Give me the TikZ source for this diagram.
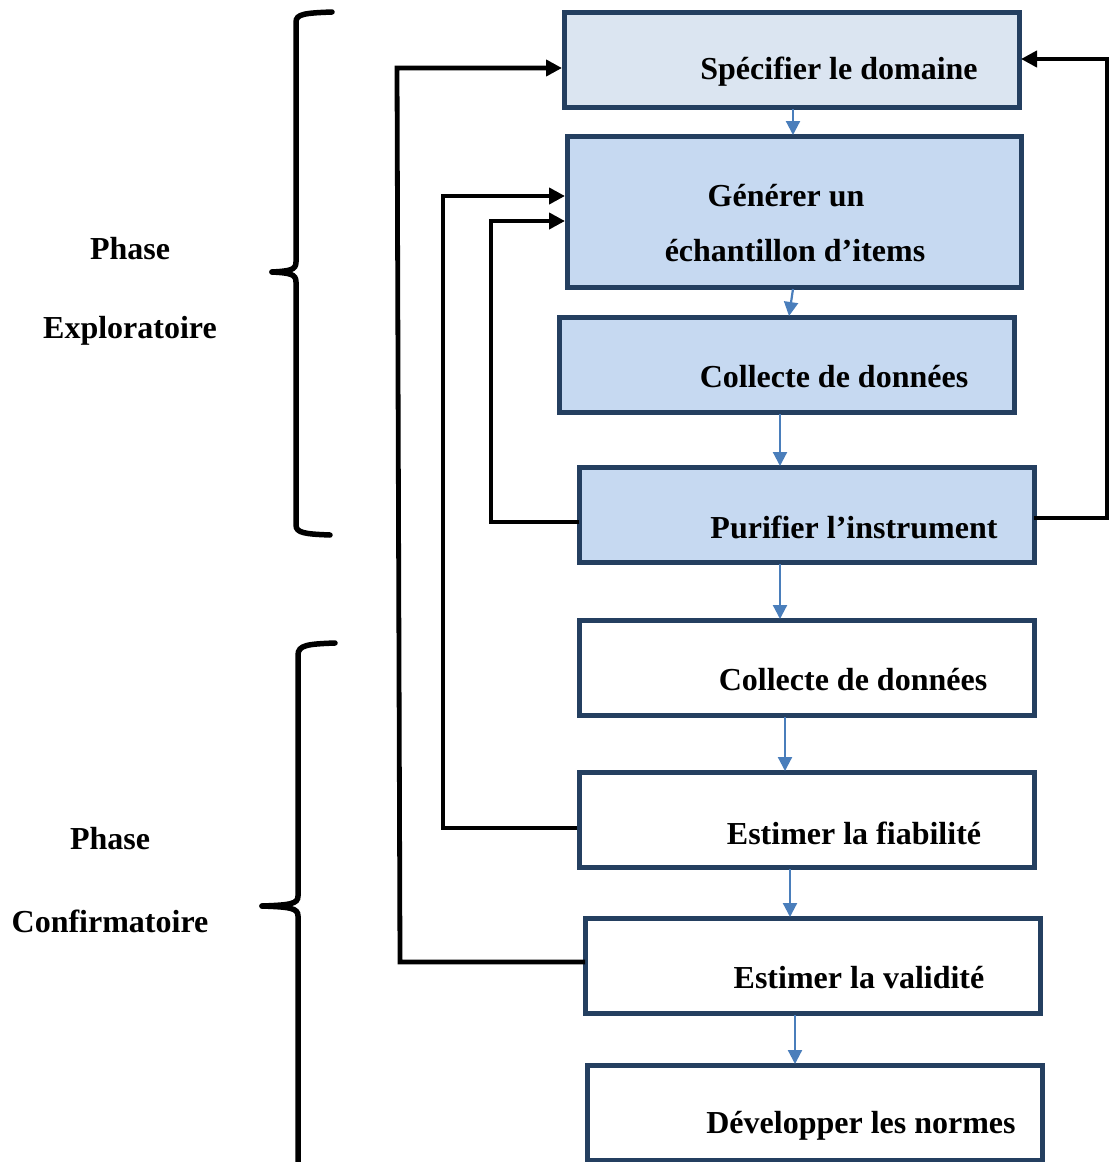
\documentclass[tikz,border=0pt]{standalone}
\usepackage{fontspec}
\setmainfont{Liberation Serif}
\usetikzlibrary{arrows.meta}
\definecolor{bord}{HTML}{243F60}
\definecolor{fillA}{HTML}{DBE5F1}
\definecolor{fillB}{HTML}{C6D9F1}
\definecolor{arr}{HTML}{4A7EBB}
\begin{document}
\begin{tikzpicture}[x=1pt,y=-1pt,
  box/.style={draw=bord,line width=5pt,rectangle},
  lbl/.style={font=\bfseries\fontsize{32}{36}\selectfont,inner sep=0pt,anchor=center},
  flow/.style={draw=arr,line width=2.2pt,-{Triangle[length=14pt,width=14pt]}},
  back/.style={draw=black,line width=4.8pt,-{Triangle[length=16pt,width=16pt]}},
  brace/.style={draw=black,line width=5.5pt,line cap=round}]
\useasboundingbox (0,0) rectangle (1109,1162);
% boxes
\draw[box,fill=fillA] (564,12) rectangle (1019,107);
\draw[box,fill=fillB] (567,136) rectangle (1021,287);
\draw[box,fill=fillB] (559,317) rectangle (1014,412);
\draw[box,fill=fillB] (579,467) rectangle (1034,562);
\draw[box,fill=white] (579,620) rectangle (1034,715);
\draw[box,fill=white] (579,772) rectangle (1034,867);
\draw[box,fill=white] (585,918) rectangle (1040,1013);
\draw[box,fill=white] (587,1065) rectangle (1042,1160);
% named anchors
\coordinate (b1l) at (562,68); \coordinate (b1r) at (1021,59);
\coordinate (b2a) at (565,196); \coordinate (b2b) at (565,221);
\coordinate (b4l) at (579,522); \coordinate (b4r) at (1034,518);
\coordinate (b6l) at (577,828); \coordinate (b7l) at (585,962);
% labels
\node[lbl] (t1) at (839,72) {Spécifier le domaine};
\node[lbl] (t2a) at (786,196) {Générer un};
\node[lbl] (t2b) at (795,251) {échantillon d’items};
\node[lbl] (t3) at (834,377) {Collecte de données};
\node[lbl] (t4) at (854,527) {Purifier l’instrument};
\node[lbl] (t5) at (853,680) {Collecte de données};
\node[lbl] (t6) at (854,833) {Estimer la fiabilité};
\node[lbl] (t7) at (859,978) {Estimer la validité};
\node[lbl] (t8) at (861,1126) {Développer les normes};
\node[lbl] (p1) at (130,249) {Phase};
\node[lbl] (p2) at (130,331) {Exploratoire};
\node[lbl] (p3) at (110,839) {Phase};
\node[lbl] (p4) at (110,921) {Confirmatoire};
% flow arrows
\draw[flow] (793,109) -- (793,135);
\draw[flow] (793,289) -- (789,316);
\draw[flow] (780,414) -- (780,466);
\draw[flow] (780,564) -- (780,619);
\draw[flow] (785,717) -- (785,771);
\draw[flow] (790,869) -- (790,917);
\draw[flow] (795,1015) -- (795,1064);
% feedback arrows
\draw[back] (b4l) -- (491,522) -- (491,221) -- (b2b);
\draw[back] (b6l) -- (443,828) -- (443,196) -- (b2a);
\draw[back] (b7l) -- (400,962) -- (397,68) -- (b1l);
\draw[back] (b4r) -- (1107,518) -- (1107,59) -- (b1r);
% braces
\draw[brace] (332,12) .. controls (305,13) and (296,14) .. (296,22) -- (296,262)
  .. controls (296,270) and (290,271) .. (272,272);
\draw[brace] (272,272) .. controls (290,273) and (296,274) .. (296,282) -- (296,525)
  .. controls (296,533) and (305,534) .. (330,535);
\draw[brace] (335,643) .. controls (308,644) and (298,645) .. (298,655) -- (298,896)
  .. controls (298,904) and (290,905) .. (262,906);
\draw[brace] (262,906) .. controls (290,907) and (298,908) .. (298,916) -- (298,1162);
\end{tikzpicture}
\end{document}
